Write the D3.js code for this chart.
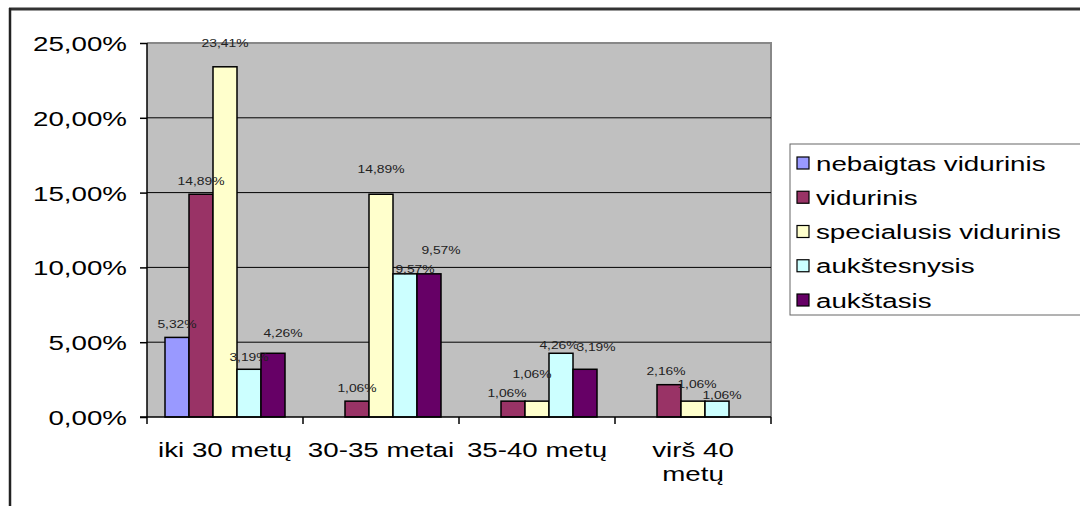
<!DOCTYPE html>
<html>
<head>
<meta charset="utf-8">
<script src="https://cdn.jsdelivr.net/npm/d3@7"></script>
<style>
  html, body { margin: 0; padding: 0; background: #fff; }
  svg { display: block; font-family: "Liberation Sans", Arial, sans-serif; }
</style>
</head>
<body>
<svg id="chart" width="1080" height="506"></svg>
<script>
// ---- data ----
const categories = ["iki 30 metų", "30-35 metai", "35-40 metų", "virš 40 metų"];
const seriesNames = ["nebaigtas vidurinis", "vidurinis", "specialusis vidurinis", "aukštesnysis", "aukštasis"];
const nebaigtasVidurinis = [5.32, 0, 0, 0];
const vidurinis = [14.89, 1.06, 1.06, 2.16];
const specialusisVidurinis = [23.41, 14.89, 1.06, 1.06];
const aukstesnysis = [3.19, 9.57, 4.26, 1.06];
const aukstasis = [4.26, 9.57, 3.19, 0];
const yTicks = [0, 5, 10, 15, 20, 25];

// ---- style / layout ----
const seriesColors = ["#9999FF", "#993366", "#FFFFCC", "#CCFFFF", "#660066"];
// label nudges [dx, dy above bar top] per category, per series (as in the original rendering)
const labelNudge = [
  [[0, 13], [0, 13], [0, 23], [0, 12], [10, 20]],
  [[0, 13], [0, 13], [0, 25], [10, 5], [12, 24]],
  [[0, 13], [-6, 8], [-5, 27], [-2, 8], [11, 22]],
  [[0, 13], [-3, 13], [4, 17], [5, 6], [0, 13]]
];
const SX = 1.32; // horizontal stretch of the original text

const seriesValues = [nebaigtasVidurinis, vidurinis, specialusisVidurinis, aukstesnysis, aukstasis];
const fmt = v => v.toFixed(2).replace(".", ",") + "%";

const svg = d3.select("#chart");
const plot = { left: 147, right: 771, top: 43, bottom: 417 };

// outer frame
svg.append("line").attr("x1", 9).attr("x2", 1080).attr("y1", 9).attr("y2", 9)
  .attr("stroke", "#333").attr("stroke-width", 3);
svg.append("line").attr("x1", 10).attr("x2", 10).attr("y1", 8).attr("y2", 506)
  .attr("stroke", "#222").attr("stroke-width", 2.5);

const x0 = d3.scaleBand().domain(categories).range([plot.left, plot.right]).paddingInner(0).paddingOuter(0);
const x1 = d3.scaleBand().domain(d3.range(seriesNames.length)).range([0, x0.bandwidth()])
  .paddingInner(0).paddingOuter(0.75);
const y = d3.scaleLinear().domain([0, 25]).range([plot.bottom, plot.top]);

// plot background
svg.append("rect").attr("x", plot.left).attr("y", plot.top)
  .attr("width", plot.right - plot.left).attr("height", plot.bottom - plot.top)
  .attr("fill", "#C0C0C0");
// plot border (top, right)
svg.append("path")
  .attr("d", `M${plot.left},${plot.top}H${plot.right}V${plot.bottom}`)
  .attr("fill", "none").attr("stroke", "#888").attr("stroke-width", 2);

// gridlines
svg.append("g").selectAll("line").data(yTicks.filter(t => t > 0 && t < 25)).join("line")
  .attr("x1", plot.left).attr("x2", plot.right)
  .attr("y1", d => y(d)).attr("y2", d => y(d))
  .attr("stroke", "#000").attr("stroke-width", 1);

// bars
const groups = svg.append("g").selectAll("g").data(categories).join("g")
  .attr("transform", d => `translate(${x0(d)},0)`);
groups.each(function (cat, ci) {
  const g = d3.select(this);
  seriesValues.forEach((vals, si) => {
    const v = vals[ci];
    if (v <= 0) return;
    g.append("rect")
      .attr("x", x1(si)).attr("y", y(v))
      .attr("width", x1.bandwidth()).attr("height", y(0) - y(v))
      .attr("fill", seriesColors[si]).attr("stroke", "#000").attr("stroke-width", 1.5);
  });
});
// data labels
groups.each(function (cat, ci) {
  const g = d3.select(this);
  seriesValues.forEach((vals, si) => {
    const v = vals[ci];
    if (v <= 0) return;
    const [dx, dy] = labelNudge[ci][si];
    g.append("text")
      .attr("transform", `translate(${x1(si) + x1.bandwidth() / 2 + dx},${y(v) - dy}) scale(${SX},1)`)
      .attr("text-anchor", "middle").attr("dy", "0.35em")
      .attr("font-size", 10.5).attr("fill", "#222")
      .text(fmt(v));
  });
});

// y axis
const yAxis = svg.append("g").attr("transform", `translate(${plot.left},0)`)
  .call(d3.axisLeft(y).tickValues(yTicks).tickSize(7).tickPadding(0).tickFormat(fmt));
yAxis.select(".domain").attr("stroke", "#000").attr("stroke-width", 1.5)
  .attr("d", `M0,${plot.top}V${plot.bottom}`);
yAxis.selectAll(".tick line").attr("stroke", "#000").attr("stroke-width", 1.5);
yAxis.selectAll(".tick text")
  .attr("x", null).attr("dy", "0.36em")
  .attr("transform", `translate(-20,0) scale(${SX},1)`)
  .attr("font-size", 21).attr("fill", "#000")
  .attr("font-family", "Liberation Sans, Arial, sans-serif");

// x axis
const xAxis = svg.append("g").attr("transform", `translate(0,${plot.bottom})`)
  .call(d3.axisBottom(x0).tickSize(0).tickFormat(""));
xAxis.select(".domain").attr("stroke", "#000").attr("stroke-width", 1.5)
  .attr("d", `M${plot.left - 7},0H${plot.right}`);
xAxis.selectAll(".tick").remove();
xAxis.selectAll("line.sep").data(d3.range(categories.length + 1)).join("line")
  .attr("class", "sep")
  .attr("x1", i => plot.left + i * x0.step()).attr("x2", i => plot.left + i * x0.step())
  .attr("y1", 0).attr("y2", 7).attr("stroke", "#000").attr("stroke-width", 1.5);

// category labels (with wrapping like the original)
const catLabels = svg.append("g");
categories.forEach(cat => {
  const cx = x0(cat) + x0.bandwidth() / 2;
  const t = catLabels.append("text")
    .attr("transform", `translate(${cx},${plot.bottom + 40}) scale(${SX},1)`)
    .attr("text-anchor", "middle").attr("font-size", 21).attr("fill", "#000");
  t.text(cat);
  if (t.node().getComputedTextLength() * SX > 148) {
    const idx = cat.lastIndexOf(" ");
    t.text(null);
    t.append("tspan").attr("x", 0).attr("y", 0).text(cat.slice(0, idx));
    t.append("tspan").attr("x", 0).attr("y", 24).text(cat.slice(idx + 1));
  }
});

// legend
const legend = svg.append("g");
legend.append("rect").attr("x", 790).attr("y", 144).attr("width", 300).attr("height", 171)
  .attr("fill", "#fff").attr("stroke", "#666").attr("stroke-width", 1);
const rowY = d3.scalePoint().domain(seriesNames).range([163, 300]);
seriesNames.forEach((name, i) => {
  legend.append("rect").attr("x", 797).attr("y", rowY(name) - 6).attr("width", 12).attr("height", 12)
    .attr("fill", seriesColors[i]).attr("stroke", "#000").attr("stroke-width", 1.2);
  legend.append("text")
    .attr("transform", `translate(816,${rowY(name)}) scale(${SX},1)`)
    .attr("dy", "0.36em").attr("font-size", 21).attr("fill", "#000")
    .text(name);
});
</script>
</body>
</html>
